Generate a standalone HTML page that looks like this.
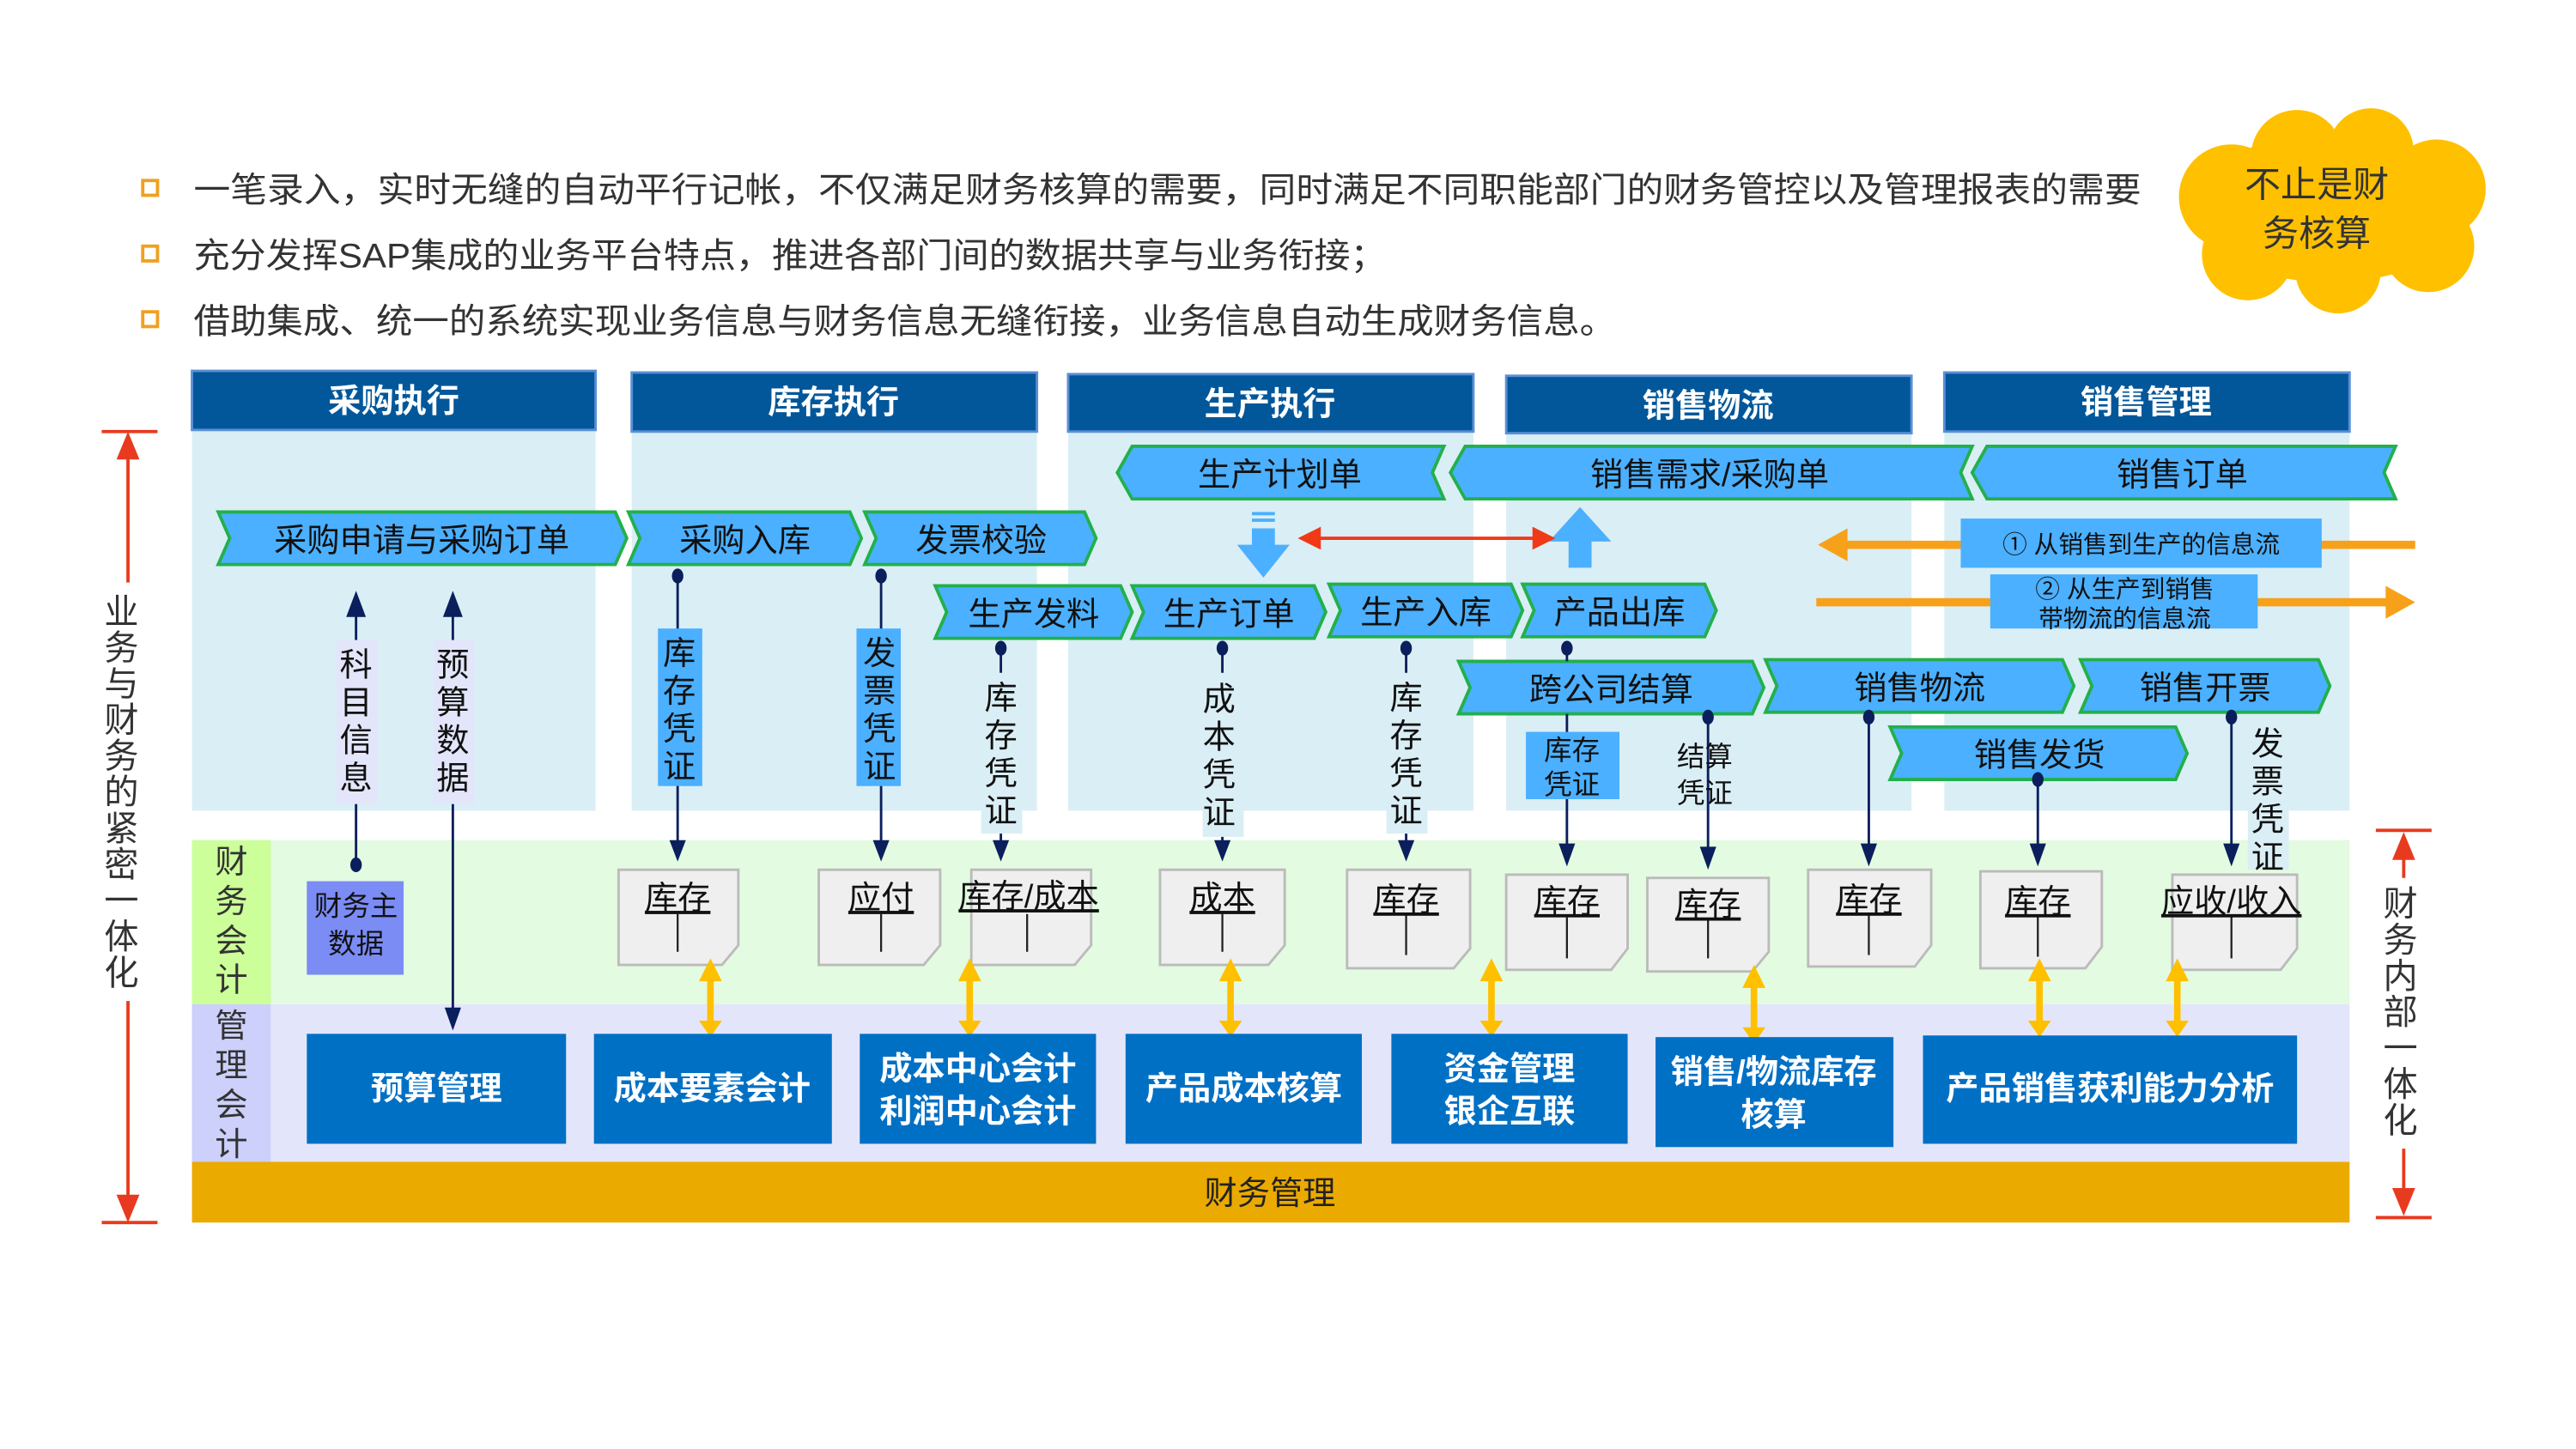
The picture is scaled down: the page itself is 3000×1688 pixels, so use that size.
<!DOCTYPE html>
<html><head><meta charset="utf-8"><style>
html,body{margin:0;padding:0;background:#fff;}
svg{display:block;}
text{font-family:"Liberation Sans","Noto Sans CJK SC",sans-serif;}
</style></head><body>
<svg width="3000" height="1688" viewBox="0 0 1570 883" preserveAspectRatio="none" xmlns="http://www.w3.org/2000/svg">
<rect width="1570" height="883" fill="#fff"/>
<!-- bullets -->
<g fill="none" stroke="#F0A020" stroke-width="2">
<rect x="87" y="110" width="9" height="9"/><rect x="87" y="150" width="9" height="9"/><rect x="87" y="190" width="9" height="9"/></g>
<g font-size="21" fill="#333">
<text x="118" y="123" textLength="1187" lengthAdjust="spacingAndGlyphs">一笔录入，实时无缝的自动平行记帐，不仅满足财务核算的需要，同时满足不同职能部门的财务管控以及管理报表的需要</text>
<text x="118" y="163" textLength="727" lengthAdjust="spacingAndGlyphs">充分发挥SAP集成的业务平台特点，推进各部门间的数据共享与业务衔接；</text>
<text x="118" y="203" textLength="867" lengthAdjust="spacingAndGlyphs">借助集成、统一的系统实现业务信息与财务信息无缝衔接，业务信息自动生成财务信息。</text>
</g>
<!-- cloud -->
<g fill="#FFC000">
<ellipse cx="1420" cy="127" rx="85" ry="45"/><circle cx="1360" cy="120" r="32"/><circle cx="1400" cy="95" r="28"/><circle cx="1445" cy="92" r="26"/><circle cx="1485" cy="115" r="30"/><circle cx="1480" cy="150" r="28"/><circle cx="1425" cy="165" r="26"/><circle cx="1370" cy="155" r="28"/></g>
<g font-size="22" fill="#333" text-anchor="middle"><text x="1412" y="120">不止是财</text><text x="1412" y="150">务核算</text></g>
<!-- panels -->
<g fill="#DAEEF5"><rect x="117" y="262" width="246" height="232"/><rect x="385" y="262" width="247" height="232"/><rect x="651" y="262" width="247" height="232"/><rect x="918" y="262" width="247" height="232"/><rect x="1185" y="262" width="247" height="232"/></g>
<g fill="#02579A" stroke="#5B8FD6" stroke-width="1.5"><rect x="117" y="226" width="246" height="36"/><rect x="385" y="227" width="247" height="36"/><rect x="651" y="228" width="247" height="35"/><rect x="918" y="229" width="247" height="35"/><rect x="1185" y="227" width="247" height="36"/></g>
<g font-size="20" font-weight="bold" fill="#fff" text-anchor="middle"><text x="240" y="251">采购执行</text><text x="508" y="252">库存执行</text><text x="774" y="253">生产执行</text><text x="1041" y="254">销售物流</text><text x="1308" y="252">销售管理</text></g>
<!-- bands -->
<rect x="117" y="512" width="1315" height="100" fill="#E3FBE0"/><rect x="117" y="512" width="48" height="100" fill="#CCFF99"/>
<rect x="117" y="612" width="1315" height="96" fill="#E3E6FA"/><rect x="117" y="612" width="48" height="96" fill="#CCD0FA"/>
<rect x="117" y="708" width="1315" height="37" fill="#EBAA00"/>
<text x="774" y="734" font-size="20" text-anchor="middle" fill="#222">财务管理</text>
<g font-size="20" fill="#333" text-anchor="middle"><text x="141" y="532">财</text><text x="141" y="556">务</text><text x="141" y="580">会</text><text x="141" y="604">计</text><text x="141" y="632">管</text><text x="141" y="656">理</text><text x="141" y="680">会</text><text x="141" y="704">计</text></g>
<!-- side arrows -->
<g stroke="#E83A1F" stroke-width="2"><line x1="78" y1="270" x2="78" y2="355"/><line x1="78" y1="610" x2="78" y2="738"/><line x1="62" y1="263" x2="96" y2="263"/><line x1="62" y1="745" x2="96" y2="745"/>
<line x1="1465" y1="515" x2="1465" y2="535"/><line x1="1465" y1="700" x2="1465" y2="735"/><line x1="1448" y1="506" x2="1482" y2="506"/><line x1="1448" y1="742" x2="1482" y2="742"/></g>
<g fill="#E83A1F"><path d="M71,280 L78,263 L85,280Z"/><path d="M71,728 L78,745 L85,728Z"/><path d="M1458,524 L1465,507 L1472,524Z"/><path d="M1458,724 L1465,741 L1472,724Z"/></g>
<g font-size="21" fill="#333" text-anchor="middle">
<text x="74" y="380">业</text><text x="74" y="402">务</text><text x="74" y="424">与</text><text x="74" y="446">财</text><text x="74" y="468">务</text><text x="74" y="490">的</text><text x="74" y="512">紧</text><text x="74" y="534">密</text><text x="74" y="556">一</text><text x="74" y="578">体</text><text x="74" y="600">化</text>
<text x="1463" y="558">财</text><text x="1463" y="580">务</text><text x="1463" y="602">内</text><text x="1463" y="624">部</text><text x="1463" y="646">一</text><text x="1463" y="668">体</text><text x="1463" y="690">化</text></g>
<!-- chevrons -->
<g fill="#4BB0FF" stroke="#22B04B" stroke-width="2">
<path d="M681,288 L690,272 L880,272 L873,288 L880,304 L690,304Z"/>
<path d="M884,288 L893,272 L1202,272 L1195,288 L1202,304 L893,304Z"/>
<path d="M1202,288 L1211,272 L1460,272 L1453,288 L1460,304 L1211,304Z"/>
<path d="M133,312 L375,312 L382,328 L375,344 L133,344 L140,328Z"/>
<path d="M383,312 L518,312 L525,328 L518,344 L383,344 L390,328Z"/>
<path d="M527,312 L661,312 L668,328 L661,344 L527,344 L534,328Z"/>
<path d="M570,357 L683,357 L690,373 L683,389 L570,389 L577,373Z"/>
<path d="M690,357 L801,357 L808,373 L801,389 L690,389 L697,373Z"/>
<path d="M810,356 L921,356 L928,372 L921,388 L810,388 L817,372Z"/>
<path d="M928,356 L1039,356 L1046,372 L1039,388 L928,388 L935,372Z"/>
<path d="M889,403 L1068,403 L1075,419 L1068,435 L889,435 L896,419Z"/>
<path d="M1076,402 L1257,402 L1264,418 L1257,434 L1076,434 L1083,418Z"/>
<path d="M1268,402 L1413,402 L1420,418 L1413,434 L1268,434 L1275,418Z"/>
<path d="M1152,443 L1326,443 L1333,459 L1326,475 L1152,475 L1159,459Z"/>
</g>
<g font-size="20" fill="#111" text-anchor="middle">
<text x="780" y="296">生产计划单</text><text x="1042" y="296">销售需求/采购单</text><text x="1330" y="296">销售订单</text>
<text x="257" y="336">采购申请与采购订单</text><text x="454" y="336">采购入库</text><text x="598" y="336">发票校验</text>
<text x="630" y="381">生产发料</text><text x="749" y="381">生产订单</text><text x="869" y="380">生产入库</text><text x="987" y="380">产品出库</text>
<text x="982" y="427">跨公司结算</text><text x="1170" y="426">销售物流</text><text x="1344" y="426">销售开票</text><text x="1243" y="467">销售发货</text></g>
<!-- info boxes & orange arrows -->
<g stroke="#F7A11A" stroke-width="5"><line x1="1122" y1="332" x2="1196" y2="332"/><line x1="1414" y1="332" x2="1472" y2="332"/><line x1="1107" y1="367" x2="1456" y2="367"/></g>
<path d="M1108,332 L1126,322 L1126,342Z" fill="#F7A11A"/><path d="M1472,367 L1454,357 L1454,377Z" fill="#F7A11A"/>
<rect x="1195" y="316" width="220" height="30" fill="#4BB0FF"/><rect x="1213" y="350" width="163" height="33" fill="#4BB0FF"/>
<g font-size="15" fill="#111" text-anchor="middle"><text x="1305" y="337">① 从销售到生产的信息流</text><text x="1295" y="364">② 从生产到销售</text><text x="1295" y="382">带物流的信息流</text></g>
<!-- big arrows -->
<g fill="#4BB0FF"><path d="M763,322 L777,322 L777,332 L786,332 L770,352 L754,332 L763,332Z"/><rect x="763" y="312" width="14" height="2"/><rect x="763" y="316" width="14" height="2"/>
<path d="M956,346 L970,346 L970,330 L982,330 L963,309 L944,330 L956,330Z"/></g>
<line x1="800" y1="328" x2="938" y2="328" stroke="#F03A17" stroke-width="2"/>
<path d="M791,328 L805,321 L805,335Z" fill="#F03A17"/><path d="M948,328 L934,321 L934,335Z" fill="#F03A17"/>
<!-- connectors -->
<g stroke="#0A1F5C" stroke-width="1.5" fill="none">
<line x1="217" y1="374" x2="217" y2="525"/><line x1="276" y1="374" x2="276" y2="618"/>
<line x1="413" y1="351" x2="413" y2="514"/><line x1="537" y1="351" x2="537" y2="514"/>
<line x1="610" y1="395" x2="610" y2="514"/><line x1="745" y1="395" x2="745" y2="514"/><line x1="857" y1="395" x2="857" y2="514"/>
<line x1="955" y1="395" x2="955" y2="403"/><line x1="955" y1="435" x2="955" y2="518"/><line x1="1041" y1="437" x2="1041" y2="520"/>
<line x1="1139" y1="437" x2="1139" y2="518"/><line x1="1242" y1="475" x2="1242" y2="518"/><line x1="1360" y1="437" x2="1360" y2="518"/></g>
<g fill="#0A1F5C">
<path d="M211,376 L217,360 L223,376Z"/><path d="M270,376 L276,360 L282,376Z"/><path d="M271,614 L276,628 L281,614Z"/>
<g><path d="M408,512 L413,525 L418,512Z"/><path d="M532,512 L537,525 L542,512Z"/><path d="M605,512 L610,525 L615,512Z"/><path d="M740,512 L745,525 L750,512Z"/><path d="M852,512 L857,525 L862,512Z"/><path d="M950,514 L955,528 L960,514Z"/><path d="M1036,516 L1041,530 L1046,516Z"/><path d="M1134,514 L1139,528 L1144,514Z"/><path d="M1237,514 L1242,528 L1247,514Z"/><path d="M1355,514 L1360,528 L1365,514Z"/></g>
<ellipse cx="413" cy="351" rx="3.5" ry="4.5"/><ellipse cx="537" cy="351" rx="3.5" ry="4.5"/><ellipse cx="610" cy="395" rx="3.5" ry="4.5"/><ellipse cx="745" cy="395" rx="3.5" ry="4.5"/><ellipse cx="857" cy="395" rx="3.5" ry="4.5"/><ellipse cx="955" cy="395" rx="3.5" ry="4.5"/><ellipse cx="1041" cy="437" rx="3.5" ry="4.5"/><ellipse cx="1139" cy="437" rx="3.5" ry="4.5"/><ellipse cx="1242" cy="475" rx="3.5" ry="4.5"/><ellipse cx="1360" cy="437" rx="3.5" ry="4.5"/><ellipse cx="217" cy="527" rx="3.5" ry="4.5"/></g>
<!-- labels on connectors -->
<g fill="#E3E6FA"><rect x="205" y="390" width="25" height="100"/><rect x="264" y="390" width="25" height="100"/></g>
<g fill="#4BB0FF"><rect x="401" y="383" width="27" height="96"/><rect x="522" y="383" width="27" height="96"/><rect x="930" y="446" width="57" height="41"/></g>
<g fill="#DAEEF5"><rect x="598" y="410" width="25" height="98"/><rect x="733" y="410" width="25" height="100"/><rect x="845" y="410" width="25" height="98"/><rect x="1370" y="440" width="25" height="90"/></g>
<g font-size="20" fill="#111" text-anchor="middle">
<text x="217" y="412">科</text><text x="217" y="435">目</text><text x="217" y="458">信</text><text x="217" y="481">息</text>
<text x="276" y="412">预</text><text x="276" y="435">算</text><text x="276" y="458">数</text><text x="276" y="481">据</text>
<text x="414" y="405">库</text><text x="414" y="428">存</text><text x="414" y="451">凭</text><text x="414" y="474">证</text>
<text x="536" y="405">发</text><text x="536" y="428">票</text><text x="536" y="451">凭</text><text x="536" y="474">证</text>
<text x="610" y="432">库</text><text x="610" y="455">存</text><text x="610" y="478">凭</text><text x="610" y="501">证</text>
<text x="743" y="433">成</text><text x="743" y="456">本</text><text x="743" y="479">凭</text><text x="743" y="502">证</text>
<text x="857" y="432">库</text><text x="857" y="455">存</text><text x="857" y="478">凭</text><text x="857" y="501">证</text>
<text x="1382" y="460">发</text><text x="1382" y="483">票</text><text x="1382" y="506">凭</text><text x="1382" y="529">证</text></g>
<g font-size="17" fill="#111" text-anchor="middle"><text x="958" y="463">库存</text><text x="958" y="484">凭证</text><text x="1039" y="467">结算</text><text x="1039" y="489">凭证</text></g>
<!-- 财务主数据 -->
<rect x="187" y="537" width="59" height="57" fill="#7B8CF5"/>
<g font-size="17" fill="#111" text-anchor="middle"><text x="217" y="558">财务主</text><text x="217" y="581">数据</text></g>
<!-- doc boxes -->
<g fill="#EFEFEF" stroke="#BBBBBB" stroke-width="1.5">
<path d="M377,530 L450,530 L450,576 L440,588 L377,588Z"/>
<path d="M499,530 L573,530 L573,576 L563,588 L499,588Z"/>
<path d="M592,530 L665,530 L665,576 L655,588 L592,588Z"/>
<path d="M707,530 L783,530 L783,576 L773,588 L707,588Z"/>
<path d="M821,530 L896,530 L896,578 L886,590 L821,590Z"/>
<path d="M918,533 L992,533 L992,578 L982,591 L918,591Z"/>
<path d="M1004,535 L1078,535 L1078,580 L1068,592 L1004,592Z"/>
<path d="M1102,530 L1177,530 L1177,576 L1167,589 L1102,589Z"/>
<path d="M1207,531 L1281,531 L1281,577 L1271,590 L1207,590Z"/>
<path d="M1324,533 L1400,533 L1400,578 L1390,591 L1324,591Z"/></g>
<g stroke="#222" stroke-width="1.2">
<line x1="413" y1="557" x2="413" y2="580"/><line x1="537" y1="557" x2="537" y2="580"/><line x1="626" y1="557" x2="626" y2="580"/><line x1="745" y1="557" x2="745" y2="580"/><line x1="857" y1="557" x2="857" y2="582"/><line x1="955" y1="559" x2="955" y2="584"/><line x1="1041" y1="561" x2="1041" y2="584"/><line x1="1139" y1="557" x2="1139" y2="582"/><line x1="1242" y1="558" x2="1242" y2="583"/><line x1="1360" y1="558" x2="1360" y2="584"/></g>
<g font-size="20" fill="#111" text-anchor="middle" text-decoration="underline">
<text x="413" y="554">库存</text><text x="537" y="554">应付</text><text x="627" y="553">库存/成本</text><text x="745" y="554">成本</text><text x="857" y="555">库存</text><text x="955" y="556">库存</text><text x="1041" y="558">库存</text><text x="1139" y="555">库存</text><text x="1242" y="556">库存</text><text x="1360" y="556">应收/收入</text></g>
<!-- yellow double arrows -->
<g fill="#FFC000">
<g id="ya"><rect x="431" y="596" width="4" height="28"/><path d="M426,598 L433,584 L440,598Z"/><path d="M426,622 L433,632 L440,622Z"/></g>
<use href="#ya" x="158"/><use href="#ya" x="317"/><use href="#ya" x="476"/><use href="#ya" x="636" y="4"/><use href="#ya" x="810"/><use href="#ya" x="894"/></g>
<!-- bottom boxes -->
<g fill="#0070C5"><rect x="187" y="630" width="158" height="67"/><rect x="362" y="630" width="145" height="67"/><rect x="524" y="630" width="144" height="67"/><rect x="686" y="630" width="144" height="67"/><rect x="848" y="630" width="144" height="67"/><rect x="1009" y="632" width="145" height="67"/><rect x="1172" y="631" width="228" height="66"/></g>
<g font-size="20" font-weight="bold" fill="#fff" text-anchor="middle">
<text x="266" y="670">预算管理</text><text x="434" y="670">成本要素会计</text><text x="596" y="658">成本中心会计</text><text x="596" y="684">利润中心会计</text><text x="758" y="670">产品成本核算</text><text x="920" y="658">资金管理</text><text x="920" y="684">银企互联</text><text x="1081" y="660">销售/物流库存</text><text x="1081" y="686">核算</text><text x="1286" y="670">产品销售获利能力分析</text></g>
</svg>
</body></html>
